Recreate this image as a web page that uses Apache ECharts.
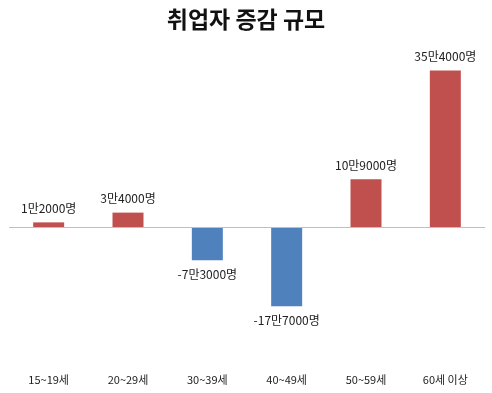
<!DOCTYPE html>
<html>
<head>
<meta charset="utf-8">
<script src="https://cdn.jsdelivr.net/npm/echarts@6/dist/echarts.min.js"></script>
<style>html,body{margin:0;padding:0;background:#fff}#c{width:492px;height:393px}</style>
</head>
<body>
<div id="c"></div>
<script>
const categories = ['15~19세', '20~29세', '30~39세', '40~49세', '50~59세', '60세 이상'];
const values = [1.2, 3.4, -7.3, -17.7, 10.9, 35.4]; // 단위: 만명
const titleText = '취업자 증감 규모';

function fmt(v) {
  const n = Math.round(Math.abs(v) * 10000);
  const man = Math.floor(n / 10000);
  const rest = n % 10000;
  return (v < 0 ? '-' : '') + man + '만' + rest + '명';
}

const chart = echarts.init(document.getElementById('c'));
const font = '"Noto Sans CJK KR", "Noto Sans", sans-serif';
chart.setOption({
  animation: false,
  title: {
    text: titleText, left: 'center', top: 3,
    textStyle: { fontFamily: font, fontSize: 23, fontWeight: 'bold', color: '#111' }
  },
  grid: { left: 9, right: 7, top: 50, bottom: 32, containLabel: false },
  xAxis: {
    type: 'category', data: categories,
    axisLine: { show: false, onZero: false },
    axisTick: { show: false },
    axisLabel: { margin: 13, fontFamily: font, fontSize: 11, color: '#222' }
  },
  yAxis: {
    type: 'value', min: -30, max: 40, show: false,
    splitLine: { show: false }
  },
  series: [{
    type: 'bar', barWidth: 31,
    data: values.map(v => ({
      value: v,
      itemStyle: { color: v >= 0 ? '#C0504D' : '#4F81BD' },
      label: { position: v >= 0 ? 'top' : 'bottom' }
    })),
    label: {
      show: true, distance: 8, fontFamily: font, fontSize: 12, color: '#222',
      formatter: p => fmt(p.value)
    },
    markLine: {
      silent: true, symbol: 'none', label: { show: false },
      lineStyle: { color: '#bfbfbf', width: 1, type: 'solid' },
      data: [{ yAxis: 0 }]
    },
    z: 3
  }]
});
</script>
</body>
</html>
